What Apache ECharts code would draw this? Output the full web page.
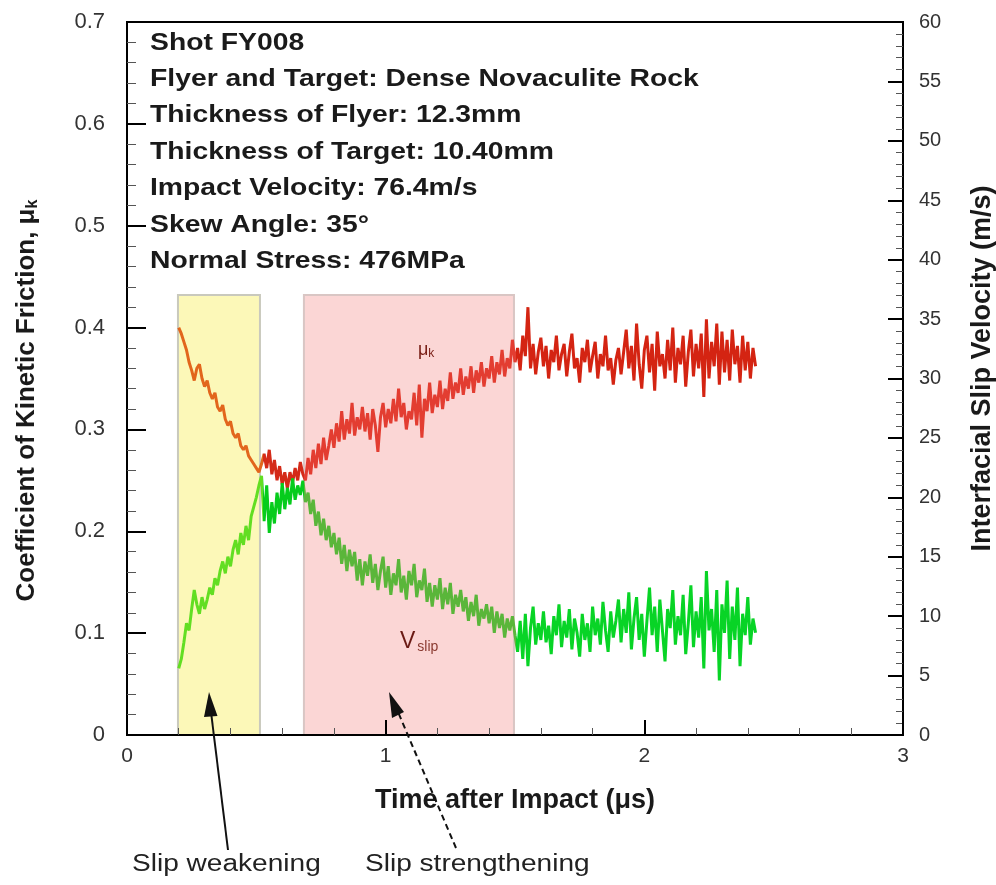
<!DOCTYPE html>
<html>
<head>
<meta charset="utf-8">
<script src="https://cdn.jsdelivr.net/npm/echarts@6/dist/echarts.min.js"></script>
<style>html,body{margin:0;padding:0;background:#fff}#c{width:996px;height:885px}</style>
</head>
<body>
<div id="c"></div>
<script>
// ---- data ----
const time = [
0.20,0.21,0.22,0.23,0.24,0.25,0.26,0.27,0.28,0.29,
0.30,0.31,0.32,0.33,0.34,0.35,0.36,0.37,0.38,0.39,
0.40,0.41,0.42,0.43,0.44,0.45,0.46,0.47,0.48,0.49,
0.50,0.51,0.52,0.53,0.54,0.55,0.56,0.57,0.58,0.59,
0.60,0.61,0.62,0.63,0.64,0.65,0.66,0.67,0.68,0.69,
0.70,0.71,0.72,0.73,0.74,0.75,0.76,0.77,0.78,0.79,
0.80,0.81,0.82,0.83,0.84,0.85,0.86,0.87,0.88,0.89,
0.90,0.91,0.92,0.93,0.94,0.95,0.96,0.97,0.98,0.99,
1.00,1.01,1.02,1.03,1.04,1.05,1.06,1.07,1.08,1.09,
1.10,1.11,1.12,1.13,1.14,1.15,1.16,1.17,1.18,1.19,
1.20,1.21,1.22,1.23,1.24,1.25,1.26,1.27,1.28,1.29,
1.30,1.31,1.32,1.33,1.34,1.35,1.36,1.37,1.38,1.39,
1.40,1.41,1.42,1.43,1.44,1.45,1.46,1.47,1.48,1.49,
1.50,1.51,1.52,1.53,1.54,1.55,1.56,1.57,1.58,1.59,
1.60,1.61,1.62,1.63,1.64,1.65,1.66,1.67,1.68,1.69,
1.70,1.71,1.72,1.73,1.74,1.75,1.76,1.77,1.78,1.79,
1.80,1.81,1.82,1.83,1.84,1.85,1.86,1.87,1.88,1.89,
1.90,1.91,1.92,1.93,1.94,1.95,1.96,1.97,1.98,1.99,
2.00,2.01,2.02,2.03,2.04,2.05,2.06,2.07,2.08,2.09,
2.10,2.11,2.12,2.13,2.14,2.15,2.16,2.17,2.18,2.19,
2.20,2.21,2.22,2.23,2.24,2.25,2.26,2.27,2.28,2.29,
2.30,2.31,2.32,2.33,2.34,2.35,2.36,2.37,2.38,2.39,
2.40,2.41,2.42,2.43
];

// coefficient of kinetic friction (left axis)
const friction = [
0.400,0.394,0.386,0.378,0.366,0.358,0.348,0.360,0.364,0.350,
0.342,0.348,0.336,0.330,0.336,0.322,0.318,0.324,0.310,0.304,
0.308,0.296,0.292,0.296,0.284,0.280,0.284,0.274,0.270,0.266,
0.262,0.258,0.266,
0.276,0.262,0.280,0.256,0.270,0.250,0.264,0.246,0.258,0.242,0.258,0.248,0.262,0.250,0.268,0.256,
0.250,
0.272,0.256,0.280,0.262,0.286,0.266,0.292,0.270,0.284,0.300,
0.282,0.306,0.288,0.318,0.290,0.310,0.296,0.326,0.294,0.312,
0.300,0.322,0.298,0.316,0.290,0.320,0.304,0.278,0.312,0.326,
0.302,0.320,0.306,0.330,0.308,0.340,0.312,0.326,0.300,0.318,
0.310,0.336,0.304,0.344,0.292,0.330,0.318,0.346,0.316,0.334,
0.322,0.348,0.320,0.340,0.328,0.356,0.330,0.346,0.336,0.360,
0.334,0.352,0.340,0.362,0.336,0.358,0.346,0.366,0.342,0.360,
0.350,0.372,0.346,0.366,0.354,0.378,0.352,0.370,0.360,0.388,
0.366,
0.380,0.358,0.392,0.372,0.420,0.360,0.384,0.354,0.376,0.390,
0.362,0.382,0.350,0.378,0.366,0.392,0.358,0.374,0.384,0.352,
0.376,0.394,0.360,0.370,0.346,0.380,0.366,0.388,0.356,0.372,
0.386,0.350,0.374,0.362,0.392,0.358,0.370,0.344,0.368,0.380,
0.354,0.376,0.398,0.360,0.382,0.348,0.404,0.364,0.340,0.378,
0.392,0.356,0.384,0.338,0.396,0.362,0.374,0.350,0.388,0.358,
0.400,0.346,0.380,0.364,0.392,0.342,0.376,0.398,0.352,0.384,
0.360,0.394,0.332,0.408,0.350,0.386,0.362,0.404,0.344,0.396,
0.356,0.388,0.348,0.398,0.364,0.382,0.346,0.392,0.358,0.386,
0.350,0.380,0.362
];

// interfacial slip velocity, m/s (right axis)
const slipVelocity = [
5.6,6.4,7.8,9.4,8.8,10.6,12.2,11.0,10.2,11.6,
10.6,11.4,12.4,11.8,13.2,12.6,13.8,14.6,13.6,15.0,
14.2,15.6,16.4,15.2,17.0,16.0,17.6,16.4,18.4,19.2,
20.0,21.0,21.8,
18.0,21.0,17.0,19.6,17.8,20.4,18.6,21.2,19.0,20.8,19.4,21.6,19.8,21.0,20.2,21.4,
19.6,
20.4,18.6,19.8,17.6,18.8,16.8,18.2,16.4,17.6,15.8,
17.0,15.2,16.6,14.4,16.0,13.8,15.6,14.2,15.4,13.0,
14.8,12.6,14.6,13.4,15.2,12.8,14.4,12.2,13.8,15.0,
12.4,14.2,11.8,13.6,12.6,14.8,12.0,13.4,11.4,13.8,
12.6,14.4,11.6,13.0,12.2,14.0,11.2,12.8,10.8,12.6,
11.4,13.2,10.6,12.4,11.0,12.8,10.2,11.8,10.8,12.2,
10.4,11.6,9.6,11.2,10.0,11.8,9.2,10.6,9.8,11.0,
9.4,10.8,8.6,10.4,9.0,10.2,8.2,9.8,8.8,10.0,
8.4,
7.0,9.6,6.4,10.2,5.8,9.0,10.8,7.6,9.4,8.0,
10.4,7.8,9.2,6.8,10.0,8.4,11.0,7.4,9.6,8.2,
10.6,7.2,9.8,8.6,6.6,10.2,8.0,9.4,7.0,10.8,
8.4,9.8,7.6,11.2,8.8,7.0,10.4,8.2,9.6,11.4,
7.8,10.6,8.6,12.0,7.2,9.8,11.6,8.0,10.2,6.6,
9.6,12.4,8.4,10.8,7.0,11.4,8.8,6.2,10.6,9.0,
12.2,7.6,10.0,8.4,11.8,6.8,9.4,12.6,7.4,10.4,
8.2,11.6,5.6,13.8,8.8,10.6,7.0,12.2,4.6,11.0,
8.6,13.0,6.4,10.8,8.0,12.4,5.8,10.2,8.4,11.6,
7.6,9.8,8.6
];

// shaded regimes: [start time, end time, top (friction units)]
const weakeningBand = [0.197, 0.514, 0.432];
const strengtheningBand = [0.684, 1.496, 0.432];
// colour segment boundaries along time
const segmentBreaks = [0.525, 0.685, 1.505];

const infoLines = [
  'Shot FY008',
  'Flyer and Target: Dense Novaculite Rock',
  'Thickness of Flyer: 12.3mm',
  'Thickness of Target: 10.40mm',
  'Impact Velocity: 76.4m/s',
  'Skew Angle: 35°',
  'Normal Stress: 476MPa'
];
const annotationLabels = ['Slip weakening', 'Slip strengthening'];

// ---- chart ----
const FONT = 'Liberation Sans';
const chart = echarts.init(document.getElementById('c'), null, {renderer: 'canvas'});

const pair = (ys) => time.map((t, i) => [t, ys[i]]);

const frictionColors = ['#e2661c', '#d42a18', '#e33d31', '#d42412'];
const velocityColors = ['#62de22', '#06cc1c', '#5ab63a', '#08d426'];
function pieces(colors) {
  return [
    {lt: segmentBreaks[0], color: colors[0]},
    {gte: segmentBreaks[0], lt: segmentBreaks[1], color: colors[1]},
    {gte: segmentBreaks[1], lt: segmentBreaks[2], color: colors[2]},
    {gte: segmentBreaks[2], color: colors[3]}
  ];
}

const infoGraphics = infoLines.map((s, i) => ({
  type: 'text', x: 150, y: 31 + i * 36.4, z: 100,
  scaleX: 1.18,
  style: {text: s, font: 'bold 24px "' + FONT + '"', fill: '#1a1a1a'}
}));

const axisZ = 10;
const option = {
  animation: false,
  backgroundColor: '#fff',
  textStyle: {fontFamily: FONT},
  grid: {left: 127, right: 93, top: 22, bottom: 150, containLabel: false, outerBoundsMode: 'none',
         show: true, borderColor: '#000', borderWidth: 2, backgroundColor: 'transparent'},
  xAxis: {
    type: 'value', min: 0, max: 3, interval: 1, z: axisZ,
    axisLine: {lineStyle: {color: '#000', width: 2}},
    axisTick: {inside: true, length: 15, lineStyle: {color: '#000', width: 2}},
    minorTick: {show: true, splitNumber: 5, length: 7, lineStyle: {color: '#555', width: 1}},
    splitLine: {show: false},
    axisLabel: {fontSize: 21, color: '#333', margin: 11, fontFamily: FONT},
    name: 'Time after Impact (μs)', nameLocation: 'middle', nameGap: 52,
    nameTextStyle: {fontSize: 27, fontWeight: 'bold', color: '#1a1a1a', fontFamily: FONT}
  },
  yAxis: [
    {
      type: 'value', min: 0, max: 0.7, interval: 0.1, z: axisZ,
      axisLine: {show: true, lineStyle: {color: '#000', width: 2}},
      axisTick: {show: true, inside: true, length: 19, lineStyle: {color: '#000', width: 2}},
      minorTick: {show: true, splitNumber: 5, length: 9, lineStyle: {color: '#555', width: 1}},
      splitLine: {show: false},
      axisLabel: {fontSize: 22, color: '#333', margin: 22, fontFamily: FONT},
      name: '{a|Coefficient of Kinetic Friction, μ}{s|k}', nameLocation: 'middle', nameGap: 86, nameRotate: 90,
      nameTextStyle: {
        fontFamily: FONT, color: '#1a1a1a', padding: [0, 44, 0, 0],
        rich: {a: {fontSize: 26, fontWeight: 'bold', fontFamily: FONT, color: '#1a1a1a'},
               s: {fontSize: 16, fontWeight: 'bold', fontFamily: FONT, color: '#1a1a1a', padding: [12, 0, 0, 0]}}
      }
    },
    {
      type: 'value', min: 0, max: 60, interval: 5, position: 'right', z: axisZ,
      axisLine: {show: true, lineStyle: {color: '#000', width: 2}},
      axisTick: {show: true, inside: true, length: 15, lineStyle: {color: '#000', width: 2}},
      minorTick: {show: true, splitNumber: 5, length: 7, lineStyle: {color: '#555', width: 1}},
      splitLine: {show: false},
      axisLabel: {fontSize: 20, color: '#333', margin: 16, fontFamily: FONT},
      name: 'Interfacial Slip Velocity (m/s)', nameLocation: 'middle', nameGap: 66, nameRotate: 90,
      nameTextStyle: {fontSize: 27, fontWeight: 'bold', color: '#1a1a1a', fontFamily: FONT, padding: [0, 0, 0, 20]}
    }
  ],
  visualMap: [
    {type: 'piecewise', show: false, seriesIndex: 1, dimension: 0, pieces: pieces(frictionColors)},
    {type: 'piecewise', show: false, seriesIndex: 2, dimension: 0, pieces: pieces(velocityColors)}
  ],
  series: [
    {
      type: 'line', data: [], yAxisIndex: 0, z: 1, silent: true,
      markArea: {
        silent: true,
        data: [
          [{xAxis: weakeningBand[0], yAxis: 0, itemStyle: {color: '#fcf8b8', borderColor: '#c9c9bd', borderWidth: 2}},
           {xAxis: weakeningBand[1], yAxis: weakeningBand[2]}],
          [{xAxis: strengtheningBand[0], yAxis: 0, itemStyle: {color: '#fbd6d5', borderColor: '#d9c6c4', borderWidth: 2}},
           {xAxis: strengtheningBand[1], yAxis: strengtheningBand[2]}]
        ]
      }
    },
    {type: 'line', name: 'μk', yAxisIndex: 0, data: pair(friction), showSymbol: false, z: 3,
     lineStyle: {width: 3}},
    {type: 'line', name: 'Vslip', yAxisIndex: 1, data: pair(slipVelocity), showSymbol: false, z: 3,
     lineStyle: {width: 3}}
  ],
  graphic: infoGraphics.concat([
    {type: 'text', x: 418, y: 340, z: 100,
     style: {rich: {m: {fontSize: 18, fill: '#7a2018', fontFamily: FONT}, s: {fontSize: 12, fill: '#7a2018', fontFamily: FONT, padding: [8, 0, 0, 0]}},
             text: '{m|μ}{s|k}'}},
    {type: 'text', x: 400, y: 630, z: 100,
     style: {rich: {v: {fontSize: 23, fill: '#6a1a14', fontFamily: FONT}, s: {fontSize: 14, fill: '#8a3a30', fontFamily: FONT, padding: [10, 0, 0, 2]}},
             text: '{v|V}{s|slip}'}},
    // arrows
    {type: 'line', z: 100, shape: {x1: 228, y1: 850, x2: 211, y2: 712}, style: {stroke: '#111', lineWidth: 2}},
    {type: 'polygon', z: 100, shape: {points: [[209, 692], [217.5, 716], [204, 717]]}, style: {fill: '#111'}},
    {type: 'line', z: 100, shape: {x1: 456, y1: 848, x2: 398, y2: 712}, style: {stroke: '#111', lineWidth: 2, lineDash: [6, 4]}},
    {type: 'polygon', z: 100, shape: {points: [[389, 692], [404, 712], [392, 718]]}, style: {fill: '#111'}},
    {type: 'text', x: 132, y: 853, z: 100, scaleX: 1.22,
     style: {text: annotationLabels[0], font: '23px "' + FONT + '"', fill: '#222'}},
    {type: 'text', x: 365, y: 853, z: 100, scaleX: 1.22,
     style: {text: annotationLabels[1], font: '23px "' + FONT + '"', fill: '#222'}}
  ])
};
chart.setOption(option);
</script>
</body>
</html>
